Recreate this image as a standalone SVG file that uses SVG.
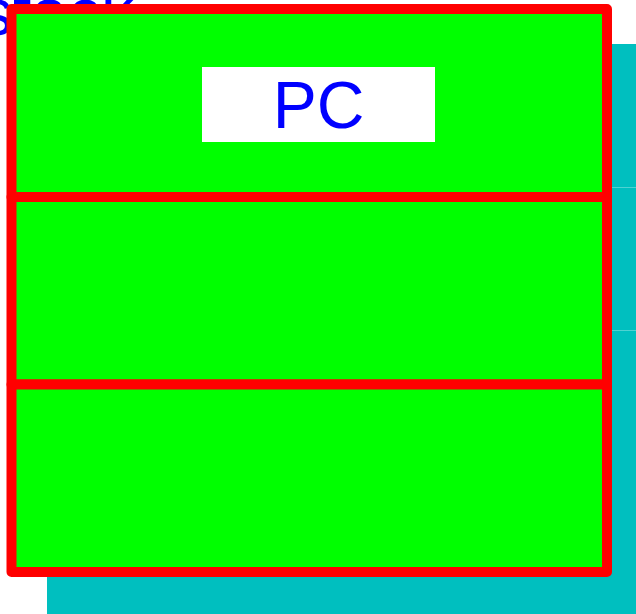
<svg xmlns="http://www.w3.org/2000/svg" width="636" height="614" viewBox="0 0 636 614">
  <style>
    .lbl { font-family: "Liberation Sans", Arial, sans-serif; font-size: 66px; fill: #0000ff; }
    .cell { fill: #00ff00; stroke: #ff0000; stroke-width: 10; stroke-linejoin: round; }
    .seam { stroke: #4fd2d2; stroke-width: 1; }
  </style>
  <g id="shadow">
    <rect x="47" y="44" width="600" height="580" fill="#00bfbf"/>
    <line class="seam" x1="47" y1="187.5" x2="636" y2="187.5"/>
    <line class="seam" x1="47" y1="330.5" x2="636" y2="330.5"/>
  </g>
  <g id="title">
    <text class="lbl" x="-20" y="35">stack</text>
  </g>
  <g id="stack">
    <g id="cell-pc">
      <rect class="cell" x="11.5" y="9" width="595.5" height="188"/>
      <rect x="202" y="67" width="233" height="75" fill="#ffffff"/>
      <text class="lbl" x="318.5" y="128" text-anchor="middle">PC</text>
    </g>
    <g id="cell-2">
      <rect class="cell" x="11.5" y="197" width="595.5" height="187.5"/>
    </g>
    <g id="cell-3">
      <rect class="cell" x="11.5" y="384.5" width="595.5" height="187.5"/>
    </g>
  </g>
</svg>
